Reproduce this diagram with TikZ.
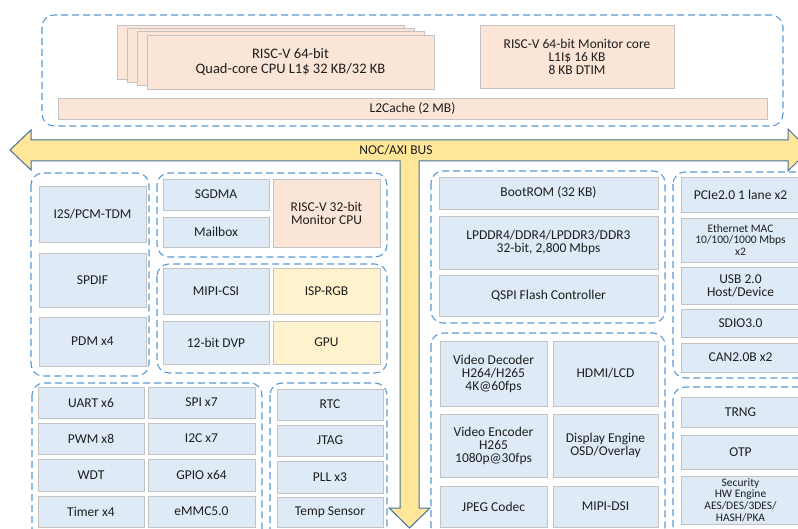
\documentclass[tikz,border=0pt]{standalone}
\usepackage{fontspec}
\setmainfont{Carlito}
\definecolor{bfill}{HTML}{DEEBF7}
\definecolor{pfill}{HTML}{FBE5D6}
\definecolor{yfill}{HTML}{FFF2CC}
\definecolor{bline}{HTML}{C3C3C3}
\definecolor{dline}{HTML}{5B9BD5}
\definecolor{busfill}{HTML}{FFE699}
\definecolor{busline}{HTML}{41719C}
\definecolor{txt}{HTML}{1E1E1E}
\newcommand\bx[7]{\node[#1, anchor=north west, minimum width={(#5)-(#3)}, minimum height={(#6)-(#4)}] (#2) at (#3,#4) {#7};}
\begin{document}
\begin{tikzpicture}[x=1pt,y=-1pt,
 blk/.style={draw=bline, line width=0.9pt, fill=bfill, inner sep=0pt, outer sep=0pt, align=center, text=txt, font=\fontsize{13.5}{13}\selectfont},
 pblk/.style={blk, fill=pfill},
 yblk/.style={blk, fill=yfill},
 sm/.style={font=\fontsize{11.5}{11.6}\selectfont},
 grp/.style={draw=dline, line width=1.1pt, dash pattern=on 7pt off 4pt, rounded corners=12pt},
 bus/.style={draw=busline, line width=1pt, fill=busfill, line join=miter}]
\useasboundingbox (0,0) rectangle (798,529);
\clip (0,0) rectangle (798,529);
\fill[white] (0,0) rectangle (798,529);

% top cluster
\draw[grp] (42,15) rectangle (783,126);
\bx{pblk}{c1}{117}{25}{404}{79}{}
\bx{pblk}{c2}{127}{28.3}{414}{82.3}{}
\bx{pblk}{c3}{137}{31.6}{424}{85.6}{}
\bx{pblk,font=\fontsize{14.5}{15}\selectfont}{cpu}{147}{35}{434}{89}{RISC-V 64-bit\\Quad-core CPU L1\$ 32 KB/32 KB}
\bx{pblk}{mon}{480}{25}{674}{88}{RISC-V 64-bit Monitor core\\L1I\$ 16 KB\\8 KB DTIM}
\bx{pblk}{l2}{58}{98}{767}{119}{L2Cache (2 MB)}

% bus
\draw[bus] (10,150) -- (31,130) -- (31,140) -- (788,140) -- (788,129) -- (809,150) -- (788,171) -- (788,161)
 -- (419,161) -- (419,508) -- (430,508) -- (409.5,528) -- (389,508) -- (400,508) -- (400,161)
 -- (31,161) -- (31,170) -- cycle;
\node[text=txt, font=\fontsize{13.5}{13}\selectfont] (busl) at (396,150.5) {NOC/AXI BUS};

% group A
\draw[grp] (31,173) rectangle (149,376);
\bx{blk}{i2s}{39}{186}{146}{242}{I2S/PCM-TDM}
\bx{blk}{spdif}{39}{253}{146}{307}{SPDIF}
\bx{blk}{pdm}{39}{317}{146}{366}{PDM x4}

% group B
\draw[grp] (157,173) rectangle (387,257);
\bx{blk}{sgdma}{163}{179}{269}{210}{SGDMA}
\bx{blk}{mailbox}{163}{217}{269}{247}{Mailbox}
\bx{pblk}{mcpu}{273}{179}{380}{247}{RISC-V 32-bit\\Monitor CPU}

% group C
\draw[grp] (157,264) rectangle (387,373);
\bx{blk}{csi}{163}{268}{269}{314}{MIPI-CSI}
\bx{yblk}{isp}{273}{268}{380}{314}{ISP-RGB}
\bx{blk}{dvp}{163}{321}{269}{364}{12-bit DVP}
\bx{yblk}{gpu}{273}{321}{380}{364}{GPU}

% group D
\draw[grp] (32,383) rectangle (262,545);
\bx{blk}{uart}{38}{387}{144}{418}{UART x6}
\bx{blk}{spi}{148}{387}{255}{418}{SPI x7}
\bx{blk}{pwm}{38}{423}{144}{454}{PWM x8}
\bx{blk}{i2c}{148}{423}{255}{454}{I2C x7}
\bx{blk}{wdt}{38}{459}{144}{491}{WDT}
\bx{blk}{gpio}{148}{459}{255}{491}{GPIO x64}
\bx{blk}{timer}{38}{496}{144}{527}{Timer x4}
\bx{blk}{emmc}{148}{496}{255}{527}{eMMC5.0}

% group E
\draw[grp] (270,383) rectangle (387,545);
\bx{blk}{rtc}{277}{389}{383}{420}{RTC}
\bx{blk}{jtag}{277}{425}{383}{456}{JTAG}
\bx{blk}{pll}{277}{461}{383}{493}{PLL x3}
\bx{blk}{temp}{277}{497}{383}{527}{Temp Sensor}

% group F
\draw[grp] (431,171) rectangle (665,323);
\bx{blk}{boot}{439}{177}{658}{209}{BootROM (32 KB)}
\bx{blk}{ddr}{439}{216}{658}{269}{LPDDR4/DDR4/LPDDR3/DDR3\\32-bit, 2,800 Mbps}
\bx{blk}{qspi}{439}{275}{658}{316}{QSPI Flash Controller}

% group G
\draw[grp] (431,333) rectangle (665,545);
\bx{blk}{vdec}{440}{341}{547}{406}{Video Decoder\\H264/H265\\4K@60fps}
\bx{blk}{hdmi}{553}{341}{658}{406}{HDMI/LCD}
\bx{blk}{venc}{440}{414}{547}{477}{Video Encoder\\H265\\1080p@30fps}
\bx{blk}{disp}{553}{414}{658}{477}{Display Engine\\OSD/Overlay}
\bx{blk}{jpeg}{440}{486}{547}{527}{JPEG Codec}
\bx{blk}{dsi}{553}{486}{658}{527}{MIPI-DSI}

% group H
\draw[grp] (673,172) rectangle (812,378);
\bx{blk}{pcie}{681}{177}{800}{212}{PCIe2.0 1 lane x2}
\bx{blk,sm}{eth}{681}{218}{800}{262}{Ethernet MAC\\10/100/1000 Mbps\\x2}
\bx{blk}{usb}{681}{267}{800}{304}{USB 2.0\\Host/Device}
\bx{blk}{sdio}{681}{309}{800}{337}{SDIO3.0}
\bx{blk}{can}{681}{343}{800}{372}{CAN2.0B x2}

% group I
\draw[grp] (673,387) rectangle (812,545);
\bx{blk}{trng}{681}{397}{800}{427}{TRNG}
\bx{blk}{otp}{681}{435}{800}{469}{OTP}
\bx{blk,sm}{sec}{681}{476}{800}{524}{Security\\HW Engine\\AES/DES/3DES/\\HASH/PKA}
\end{tikzpicture}
\end{document}
